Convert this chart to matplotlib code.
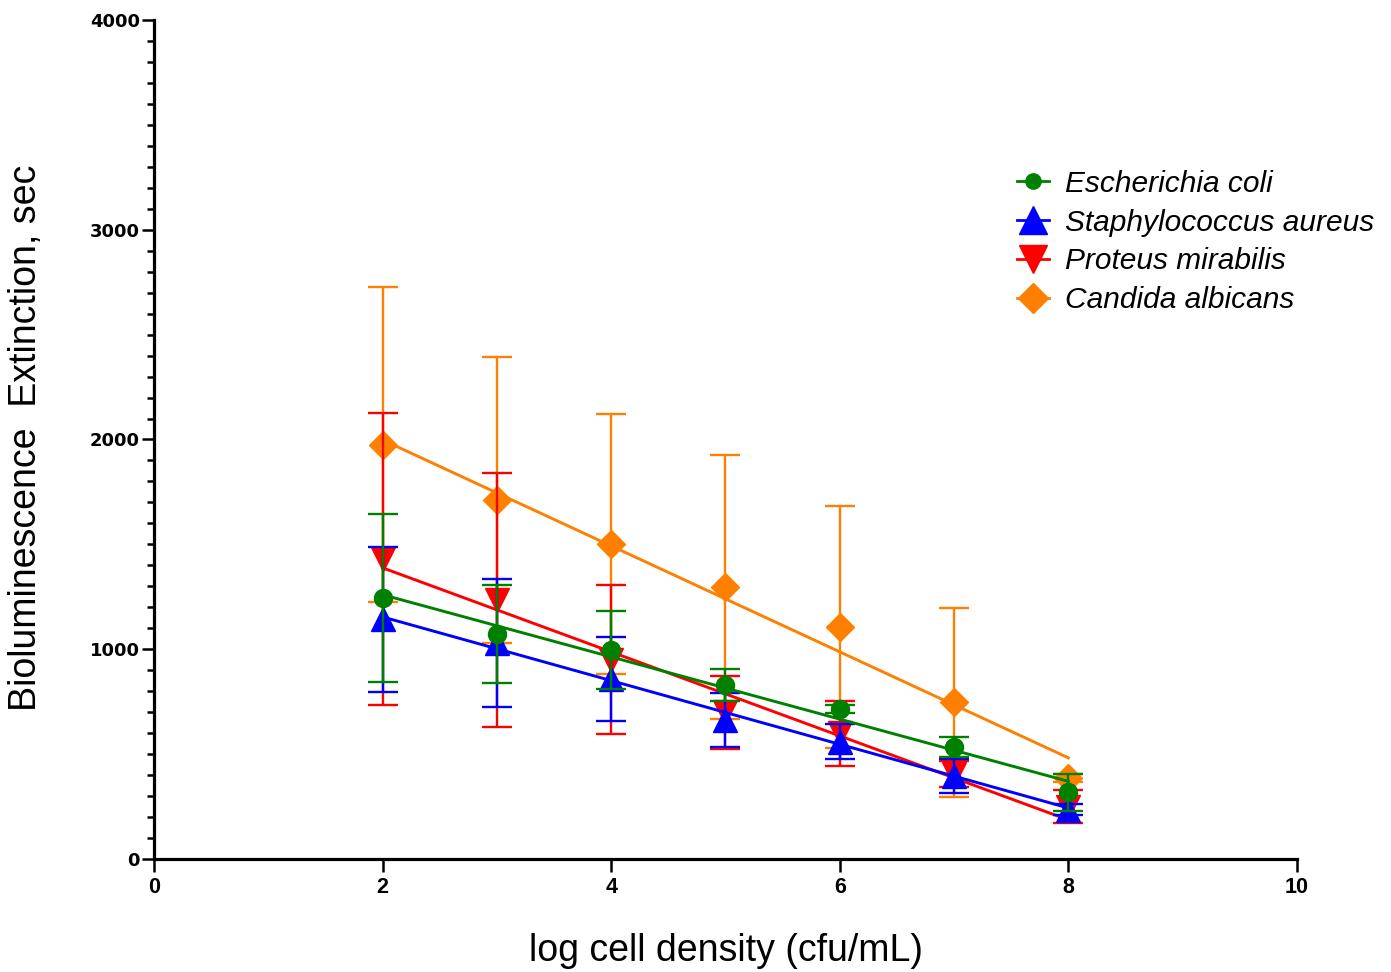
import numpy as np
import matplotlib
matplotlib.use('Agg')
import matplotlib.pyplot as plt
from matplotlib.lines import Line2D
from matplotlib.ticker import MultipleLocator

#log cell density
x = [2, 3, 4, 5, 6, 7, 8]

#mean extinction times (sec) and SD
ecoli = [1244, 1073, 997, 830, 715, 534, 317]
ecoli_sd = [400, 234, 185, 77, 20, 48, 86]
saureus = [1142, 1030, 858, 662, 560, 396, 235]
saureus_sd = [346, 305, 200, 128, 84, 81, 25]
proteus = [1430, 1235, 950, 700, 600, 405, 250]
proteus_sd = [694, 607, 355, 174, 155, 60, 77]
candida = [1976, 1712, 1502, 1295, 1106, 746, 386]
candida_sd = [753, 682, 620, 630, 577, 450, 20]

#linear fit ends (at x=2 and x=8)
fit_x = [2, 8]
ecoli_fit = [1260, 370]
saureus_fit = [1154, 243]
proteus_fit = [1388, 186]
candida_fit = [1998, 482]

names = ['Escherichia coli', 'Staphylococcus aureus', 'Proteus mirabilis', 'Candida albicans']
xticks = [0, 2, 4, 6, 8, 10]
yticks = [0, 1000, 2000, 3000, 4000]

fig = plt.figure(figsize=(13.91, 9.72), dpi=100)
ax = fig.add_axes([0.1107, 0.1163, 0.8217, 0.8631])

series = [
    (candida, candida_sd, candida_fit, '#ff8000', 'D', 14, 1),
    (proteus, proteus_sd, proteus_fit, '#ff0000', 'v', 17, 2),
    (saureus, saureus_sd, saureus_fit, '#0000ff', '^', 17, 3),
    (ecoli, ecoli_sd, ecoli_fit, '#008000', 'o', 13, 4),
]
for m, sd, fit, col, mk, ms, z in series:
    ax.errorbar(x, m, yerr=sd, fmt='none', ecolor=col, elinewidth=1.7,
                capsize=10.5, capthick=1.7, zorder=z)
    ax.plot(fit_x, fit, color=col, lw=2.1, zorder=z)
    ax.plot(x, m, ls='none', marker=mk, ms=ms, color=col, zorder=z + 0.5)

ax.set_xlim(0, 10)
ax.set_ylim(0, 4000)
ax.set_xticks(xticks, [str(t) for t in xticks], fontsize=15.5, fontweight='bold',
              family=['Liberation Sans', 'DejaVu Sans'])
ax.set_yticks(yticks, [str(t) for t in yticks], fontsize=13, fontweight='bold',
              family='DejaVu Sans')
ax.yaxis.set_minor_locator(MultipleLocator(100))

for s in ['top', 'right']:
    ax.spines[s].set_visible(False)
for s in ['left', 'bottom']:
    ax.spines[s].set_linewidth(2.3)

ax.tick_params(axis='both', which='major', length=9, width=1.8, direction='out')
ax.tick_params(axis='y', which='minor', length=5, width=1.8)
ax.tick_params(axis='y', pad=1)
ax.tick_params(axis='x', pad=4)

fig.text(0.522, 0.022, 'log cell density (cfu/mL)', ha='center', va='center',
         fontsize=27, family=['Liberation Sans', 'DejaVu Sans'])
fig.text(0.019, 0.55, 'Bioluminescence  Extinction, sec', rotation=90, ha='center', va='center',
         fontsize=27, family=['Liberation Sans', 'DejaVu Sans'])

# legend
handles = [
    Line2D([], [], color='#008000', marker='o', ms=11, lw=2),
    Line2D([], [], color='#0000ff', marker='^', ms=20, lw=2),
    Line2D([], [], color='#ff0000', marker='v', ms=20, lw=2),
    Line2D([], [], color='#ff8000', marker='D', ms=15, lw=2),
]
leg = fig.legend(handles, names, loc='upper left', bbox_to_anchor=(0.712, 0.853),
                 frameon=False, handlelength=1.05, handletextpad=0.55, labelspacing=0.36,
                 prop={'family': ['Liberation Sans', 'DejaVu Sans'], 'style': 'italic', 'size': 21.5})

fig.savefig('out.png', dpi=100)
